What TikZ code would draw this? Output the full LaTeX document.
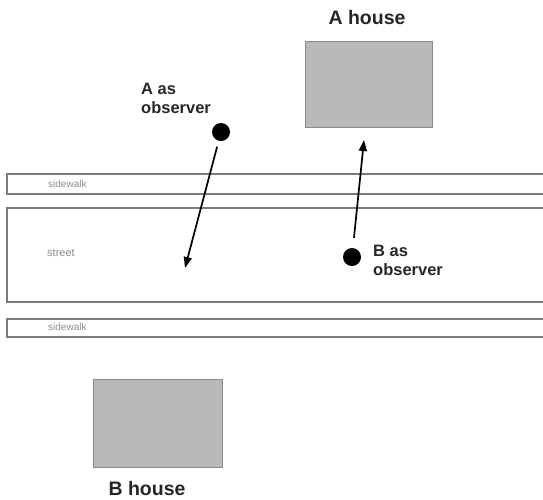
\documentclass[tikz,border=0pt]{standalone}
\usepackage{fontspec}
\setmainfont{Liberation Sans}
\usetikzlibrary{arrows.meta}
\definecolor{linegray}{HTML}{7A7A7A}
\definecolor{housefill}{HTML}{B9B9B9}
\definecolor{houseedge}{HTML}{8A8A8A}
\definecolor{labelgray}{HTML}{8C8C8C}
\tikzset{
  stripbox/.style={draw=linegray, line width=1.6pt},
  housebox/.style={draw=houseedge, fill=housefill, line width=1.8pt},
  dotnode/.style={circle, fill=black, inner sep=0pt, minimum size=18pt},
  smalllabel/.style={text=labelgray, font=\fontsize{10}{12}\selectfont, anchor=west, inner sep=0pt},
  obslabel/.style={font=\bfseries\fontsize{16.5}{19}\selectfont, align=left, anchor=west, inner sep=0pt, text=black!85},
  houselabel/.style={font=\bfseries\fontsize{19.5}{22}\selectfont, inner sep=0pt, text=black!85},
  arrowline/.style={line width=1.7pt, -{Triangle[length=11pt,width=8pt]}},
}
\begin{document}
\begin{tikzpicture}[x=1pt,y=-1pt]
\useasboundingbox (0,0) rectangle (543,499);
% street and sidewalks
\draw[stripbox] (7,174) rectangle (545,194);
\draw[stripbox] (7,208) rectangle (545,302);
\draw[stripbox] (7,319) rectangle (545,337);
\node[smalllabel] (sw1) at (48,184) {sidewalk};
\node[smalllabel, font=\fontsize{11}{12}\selectfont] (st) at (47,253) {street};
\node[smalllabel] (sw2) at (48,327) {sidewalk};
% houses
\node[housebox, minimum width=127pt, minimum height=86pt, inner sep=0pt] (ah) at (369,84.5) {};
\node[housebox, minimum width=129pt, minimum height=88pt, inner sep=0pt] (bh) at (158,423.5) {};
\node[houselabel] (ahl) at (367,18) {A house};
\node[houselabel] (bhl) at (147,489) {B house};
% observers
\node[dotnode] (adot) at (221,132) {};
\node[dotnode] (bdot) at (352,257) {};
\node[obslabel] (al) at (141,98) {A as\\observer};
\node[obslabel] (bl) at (373,260) {B as\\observer};
\coordinate (aend) at (185,268);
\coordinate (bend) at (364,140);
\draw[arrowline, shorten <=6pt] (adot) -- (aend);
\draw[arrowline, shorten <=10pt] (bdot) -- (bend);
\end{tikzpicture}
\end{document}
